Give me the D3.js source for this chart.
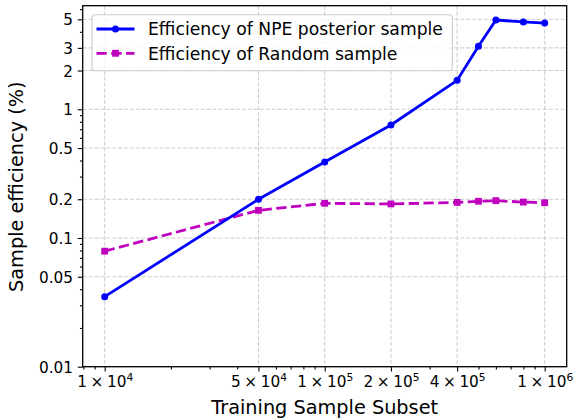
<!DOCTYPE html>
<html>
<head>
<meta charset="utf-8">
<script src="https://cdn.jsdelivr.net/npm/d3@7"></script>
<style>
  body { margin: 0; background: #fff; }
  svg { display: block; font-family: "DejaVu Sans", sans-serif; }
</style>
</head>
<body>
<svg id="chart" width="575" height="419"></svg>
<script>
// Training-set sizes and the sample efficiency (%) reached with each
const trainingSizes = [1e4, 5e4, 1e5, 2e5, 4e5, 5e5, 6e5, 8e5, 1e6];
const npeEfficiency = [0.035, 0.20, 0.39, 0.755, 1.68, 3.09, 4.94, 4.77, 4.68];
const randomEfficiency = [0.079, 0.164, 0.186, 0.184, 0.189, 0.193, 0.195, 0.190, 0.188];

const seriesNames = ["Efficiency of NPE posterior sample", "Efficiency of Random sample"];

// Tick values and labels
const xTickValues = [1e4, 5e4, 1e5, 2e5, 4e5, 1e6];
const xTickMantissas = ["1", "5", "1", "2", "4", "1"];
const xTickExponents = ["4", "4", "5", "5", "5", "6"];
const yTickValues = [0.01, 0.05, 0.1, 0.2, 0.5, 1, 2, 3, 5];
const yTickLabels = ["0.01", "0.05", "0.1", "0.2", "0.5", "1", "2", "3", "5"];

const plot = { left: 82.7, right: 566.7, top: 5.7, bottom: 366.7 };
const blue = "#0000ff", magenta = "#bf00bf";
const lineWidth = 2.78;

const svg = d3.select("#chart");

const x = d3.scaleLog().domain([Math.pow(10, 3.9), Math.pow(10, 6.1)]).range([plot.left, plot.right]);
const y = d3.scaleLog().domain([0.01, 6.38]).range([plot.bottom, plot.top]);

// Minor log ticks (2..9 in each decade) that do not coincide with labelled ticks
function minorTicks(scale, majors) {
  const [d0, d1] = scale.domain();
  const out = [];
  for (let e = Math.floor(Math.log10(d0)); e <= Math.ceil(Math.log10(d1)); e++) {
    for (let m = 1; m <= 9; m++) {
      const v = m * Math.pow(10, e);
      if (v < d0 * 0.999 || v > d1 * 1.001) continue;
      if (majors.some(t => Math.abs(t - v) / v < 1e-9)) continue;
      out.push(v);
    }
  }
  return out;
}

// Grid
const grid = svg.append("g").attr("stroke", "#cfcfcf").attr("stroke-width", 1.1)
  .attr("stroke-dasharray", "4.1,1.8");
grid.selectAll(".gx").data(xTickValues).join("line")
  .attr("x1", d => x(d)).attr("x2", d => x(d))
  .attr("y1", plot.top).attr("y2", plot.bottom);
grid.selectAll(".gy").data(yTickValues).join("line")
  .attr("x1", plot.left).attr("x2", plot.right)
  .attr("y1", d => y(d)).attr("y2", d => y(d));

// Axes
const xAxisG = svg.append("g").attr("transform", `translate(0,${plot.bottom})`);
xAxisG.append("g").call(d3.axisBottom(x).tickValues(minorTicks(x, xTickValues)).tickSize(2.8).tickFormat(""));
const xMajor = xAxisG.append("g").call(d3.axisBottom(x).tickValues(xTickValues).tickSize(4.9).tickPadding(4.5).tickFormat(""));

xMajor.selectAll(".tick text").each(function (d, i) {
  const t = d3.select(this).attr("dy", null).attr("y", 20.3)
    .attr("font-size", 15.3).attr("font-family", "DejaVu Sans").attr("fill", "#000");
  t.append("tspan").text(xTickMantissas[i]);
  t.append("tspan").attr("dx", 3.6).text("\u00d7");
  t.append("tspan").attr("dx", 3.6).text("10");
  t.append("tspan").attr("font-size", 10.7).attr("dy", -6.2).text(xTickExponents[i]);
});

const yAxisG = svg.append("g").attr("transform", `translate(${plot.left},0)`);
yAxisG.append("g").call(d3.axisLeft(y).tickValues(minorTicks(y, yTickValues)).tickSize(2.8).tickFormat(""));
yAxisG.append("g").call(d3.axisLeft(y).tickValues(yTickValues).tickSize(4.9).tickPadding(4.8)
  .tickFormat((d, i) => yTickLabels[i]))
  .selectAll(".tick text").attr("dy", "0.36em").attr("font-size", 15.3)
  .attr("font-family", "DejaVu Sans").attr("fill", "#000");

svg.selectAll(".domain").remove();
svg.selectAll(".tick line").attr("stroke", "#000").attr("stroke-width", 1.1);

// Series
const line = d3.line().x(d => x(d[0])).y(d => y(d[1]));
const npePoints = trainingSizes.map((s, i) => [s, npeEfficiency[i]]);
const randomPoints = trainingSizes.map((s, i) => [s, randomEfficiency[i]]);

svg.append("path").datum(randomPoints).attr("d", line)
  .attr("fill", "none").attr("stroke", magenta).attr("stroke-width", lineWidth)
  .attr("stroke-dasharray", "10.3,4.45").attr("stroke-linejoin", "round");
svg.append("g").selectAll("rect").data(randomPoints).join("rect")
  .attr("x", d => x(d[0]) - 3.4).attr("y", d => y(d[1]) - 3.4)
  .attr("width", 6.8).attr("height", 6.8).attr("fill", magenta);

svg.append("path").datum(npePoints).attr("d", line)
  .attr("fill", "none").attr("stroke", blue).attr("stroke-width", lineWidth)
  .attr("stroke-linejoin", "round");
svg.append("g").selectAll("circle").data(npePoints).join("circle")
  .attr("cx", d => x(d[0])).attr("cy", d => y(d[1])).attr("r", 3.5).attr("fill", blue);

// Frame
svg.append("rect").attr("x", plot.left).attr("y", plot.top)
  .attr("width", plot.right - plot.left).attr("height", plot.bottom - plot.top)
  .attr("fill", "none").attr("stroke", "#000").attr("stroke-width", 1.3);

// Axis titles
svg.append("text").attr("x", (plot.left + plot.right) / 2).attr("y", 414)
  .attr("text-anchor", "middle").attr("font-size", 19.3).attr("fill", "#000")
  .text("Training Sample Subset");
svg.append("text").attr("transform", "translate(23,186.7) rotate(-90)")
  .attr("text-anchor", "middle").attr("font-size", 19.3).attr("fill", "#000")
  .text("Sample efficiency (%)");

// Legend
const legend = svg.append("g");
legend.append("rect").attr("x", 92).attr("y", 14.7).attr("width", 360.3).attr("height", 56)
  .attr("rx", 3).attr("fill", "#fff").attr("fill-opacity", 0.8)
  .attr("stroke", "#cccccc").attr("stroke-width", 1.1);
const rows = [
  { name: seriesNames[0], color: blue, dash: null, marker: "circle", cy: 29 },
  { name: seriesNames[1], color: magenta, dash: "10.3,4.45", marker: "square", cy: 53.3 }
];
rows.forEach(r => {
  legend.append("line").attr("x1", 96.5).attr("x2", 134.5).attr("y1", r.cy).attr("y2", r.cy)
    .attr("stroke", r.color).attr("stroke-width", lineWidth)
    .attr("stroke-dasharray", r.dash);
  if (r.marker === "circle") {
    legend.append("circle").attr("cx", 115.5).attr("cy", r.cy).attr("r", 3.5).attr("fill", r.color);
  } else {
    legend.append("rect").attr("x", 115.5 - 3.4).attr("y", r.cy - 3.4)
      .attr("width", 6.8).attr("height", 6.8).attr("fill", r.color);
  }
  legend.append("text").attr("x", 148).attr("y", r.cy + 6.3)
    .attr("font-size", 17.2).attr("fill", "#000").text(r.name);
});
</script>
</body>
</html>
